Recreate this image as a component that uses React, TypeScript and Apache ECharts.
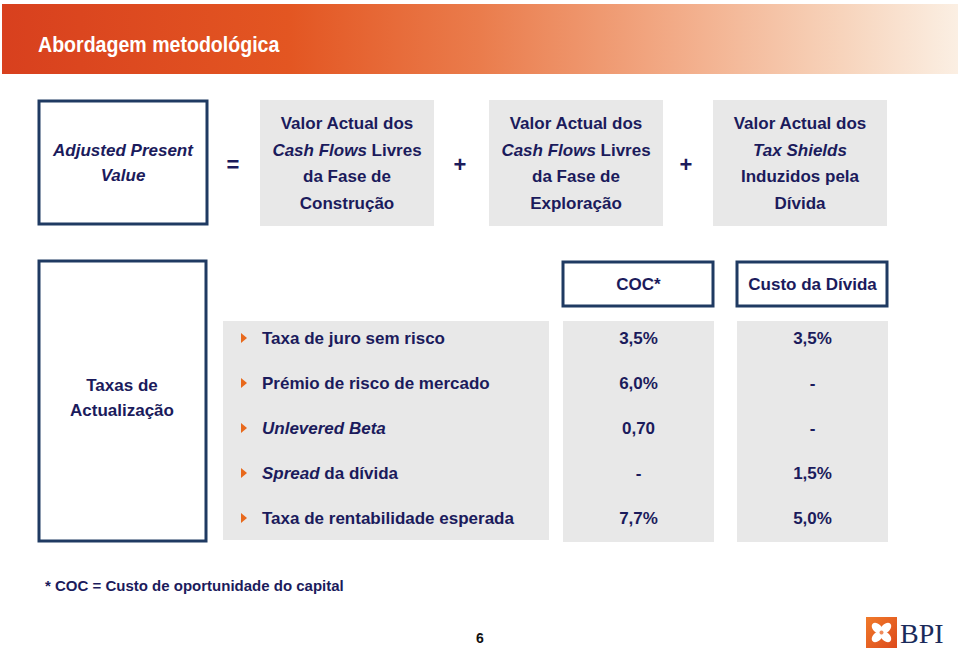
import React, { useEffect, useRef } from "react";
import * as echarts from "echarts";

const title = "Abordagem metodológica";
const apvLines = ["{i|Adjusted Present}", "{i|Value}"];
const topBoxes = [
  ["Valor Actual dos", "{i|Cash Flows} Livres", "da Fase de", "Construção"],
  ["Valor Actual dos", "{i|Cash Flows} Livres", "da Fase de", "Exploração"],
  ["Valor Actual dos", "{i|Tax Shields}", "Induzidos pela", "Dívida"],
];
const operators = ["=", "+", "+"];
const leftLabel = ["Taxas de", "Actualização"];
const columnHeaders = ["COC*", "Custo da Dívida"];
const rowLabels = [
  "Taxa de juro sem risco",
  "Prémio de risco de mercado",
  "{i|Unlevered Beta}",
  "{i|Spread} da dívida",
  "Taxa de rentabilidade esperada",
];
const cocValues = ["3,5%", "6,0%", "0,70", "-", "7,7%"];
const debtValues = ["3,5%", "-", "-", "1,5%", "5,0%"];
const footnote = "* COC = Custo de oportunidade do capital";
const pageNumber = "6";

const NAVY = "#1b1b5c";
const BORDER = "#1f3a62";
const GRAY = "#e8e8e8";
const FONT = "Liberation Sans, Arial, sans-serif";

function txt(text: string, x: number, y: number, opts: any = {}) {
  const align = opts.align || "center";
  const size = opts.size || 17;
  const weight = opts.weight || "bold";
  const family = opts.family || FONT;
  return {
    type: "text",
    x,
    y,
    z: 10,
    scaleX: opts.scaleX || 1,
    style: {
      text,
      fill: opts.fill || NAVY,
      fontSize: size,
      fontWeight: weight,
      fontStyle: opts.italic ? "italic" : "normal",
      fontFamily: family,
      align,
      textAlign: align,
      verticalAlign: "middle",
      textVerticalAlign: "middle",
      rich: {
        i: {
          fontStyle: "italic",
          fontWeight: weight,
          fontSize: size,
          fontFamily: family,
          fill: opts.fill || NAVY,
          color: opts.fill || NAVY,
        },
      },
    },
  };
}

export default function App() {
  const ref = useRef<HTMLDivElement>(null);
  useEffect(() => {
    document.body.style.margin = "0";
    const chart = echarts.init(ref.current!, null, { renderer: "svg" });
    const els: any[] = [];

    // header band
    els.push({
      type: "rect",
      shape: { x: 2, y: 4, width: 956, height: 70 },
      style: {
        fill: new echarts.graphic.LinearGradient(0, 0, 1, 0, [
          { offset: 0, color: "#d8401e" },
          { offset: 0.3, color: "#e35622" },
          { offset: 0.5, color: "#ea7c4c" },
          { offset: 0.7, color: "#f2aa86" },
          { offset: 0.88, color: "#f7d4bc" },
          { offset: 1, color: "#fbefe3" },
        ]),
      },
    });
    els.push(txt(title, 38, 44, { align: "left", fill: "#ffffff", size: 22, weight: "bold", scaleX: 0.89 }));

    // top row
    els.push({
      type: "rect",
      shape: { x: 39, y: 101, width: 168, height: 123 },
      style: { fill: "#fff", stroke: BORDER, lineWidth: 3 },
    });
    els.push(txt(apvLines[0], 123, 150));
    els.push(txt(apvLines[1], 123, 175));

    const boxX = [260, 489, 713];
    const boxW = 174;
    const lineY = [123, 150, 176, 203];
    topBoxes.forEach((lines, bi) => {
      els.push({
        type: "rect",
        shape: { x: boxX[bi], y: 100, width: boxW, height: 126 },
        style: { fill: GRAY },
      });
      lines.forEach((l, li) => els.push(txt(l, boxX[bi] + boxW / 2, lineY[li])));
    });
    const opX = [233, 460, 686];
    operators.forEach((o, i) => els.push(txt(o, opX[i], 164, { size: 22 })));

    // bottom section
    els.push({
      type: "rect",
      shape: { x: 39, y: 261, width: 167, height: 280 },
      style: { fill: "#fff", stroke: BORDER, lineWidth: 3 },
    });
    els.push(txt(leftLabel[0], 122, 385));
    els.push(txt(leftLabel[1], 122, 410));

    // column headers
    const colX = [563, 737];
    const colW = 151;
    columnHeaders.forEach((h, i) => {
      els.push({
        type: "rect",
        shape: { x: colX[i], y: 262, width: colW - 1, height: 44 },
        style: { fill: "#fff", stroke: BORDER, lineWidth: 3 },
      });
      els.push(txt(h, colX[i] + colW / 2, 284));
    });

    // gray panels
    els.push({ type: "rect", shape: { x: 223, y: 321, width: 326, height: 219 }, style: { fill: GRAY } });
    colX.forEach((x) => {
      els.push({ type: "rect", shape: { x, y: 321, width: colW, height: 221 }, style: { fill: GRAY } });
    });

    const rowY = [338, 383, 428, 473, 518];
    rowLabels.forEach((r, i) => {
      const y = rowY[i];
      els.push({
        type: "polygon",
        shape: { points: [[241, y - 5], [247, y], [241, y + 5]] },
        style: { fill: "#e8691c" },
      });
      els.push(txt(r, 262, y, { align: "left" }));
      els.push(txt(cocValues[i], colX[0] + colW / 2, y));
      els.push(txt(debtValues[i], colX[1] + colW / 2, y));
    });

    els.push(txt(footnote, 45, 585, { align: "left", size: 15 }));
    els.push(txt(pageNumber, 480, 638, { size: 14, fill: "#111" }));

    // BPI logo
    const lx = 866, ly = 617, ls = 31;
    els.push({
      type: "rect",
      shape: { x: lx, y: ly, width: ls, height: ls },
      style: {
        fill: new echarts.graphic.LinearGradient(0, 0, 1, 1, [
          { offset: 0, color: "#f07a2a" },
          { offset: 1, color: "#dd4a1c" },
        ]),
      },
    });
    const cx = lx + ls / 2, cy = ly + ls / 2;
    [45, 135, 225, 315].forEach((deg) => {
      const rad = (deg * Math.PI) / 180;
      els.push({
        type: "ellipse",
        x: cx + Math.cos(rad) * 6,
        y: cy + Math.sin(rad) * 6,
        rotation: -rad,
        shape: { cx: 0, cy: 0, rx: 6.5, ry: 4.2 },
        style: { fill: "#ffffff" },
        z: 11,
      });
    });
    els.push({ type: "circle", shape: { cx, cy, r: 2 }, style: { fill: "#f08a5a" }, z: 12 });
    els.push(txt("BPI", 900, 633, { align: "left", size: 28, weight: "normal", fill: "#1a2a5a", family: "Liberation Serif, DejaVu Serif, serif" }));

    chart.setOption({
      animation: false,
      backgroundColor: "#ffffff",
      graphic: { elements: els },
    });
    return () => chart.dispose();
  }, []);
  return <div ref={ref} style={{ width: 960, height: 660 }} />;
}
